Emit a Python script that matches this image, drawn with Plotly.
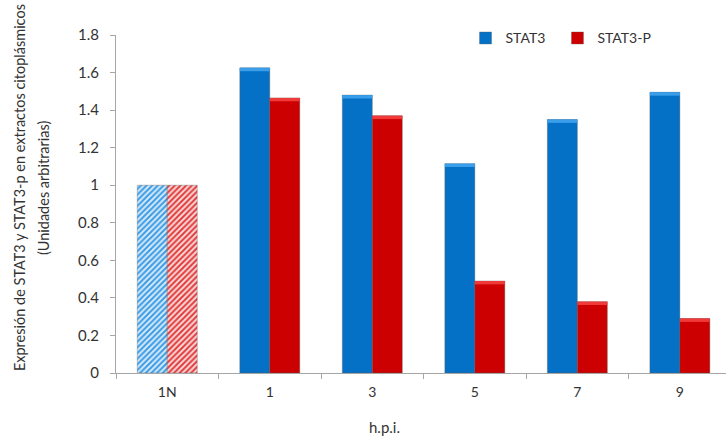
import plotly.graph_objects as go

categories = ["1N", "1", "3", "5", "7", "9"]
stat3 = [1.0, 1.625, 1.48, 1.115, 1.35, 1.495]
stat3_p = [1.0, 1.465, 1.37, 0.49, 0.38, 0.29]
y_ticks = [0, 0.2, 0.4, 0.6, 0.8, 1.0, 1.2, 1.4, 1.6, 1.8]
y_tick_labels = ["0", "0.2", "0.4", "0.6", "0.8", "1", "1.2", "1.4", "1.6", "1.8"]
hatched = [True, False, False, False, False, False]
series_names = ["STAT3", "STAT3-P"]
y_title_lines = ["Expresión de STAT3 y STAT3-p en extractos citoplásmicos",
                 "(Unidades arbitrarias)"]

BLUE = "#0571C6"
BLUE_LIGHT = "#D6EBFB"
BLUE_HATCH = "#3A9AE3"
BLUE_TOP = "#3A9EEA"
RED = "#CC0000"
RED_LIGHT = "#FBDADA"
RED_HATCH = "#E03A3A"
RED_TOP = "#F03A3A"
BEVEL = 0.018
OUTLINE = dict(color="rgba(90,90,90,0.35)", width=1)

FONT = "Lato"
TXT = "#333333"

fig = go.Figure()

def solid_trace(name, vals, color, group):
    return go.Bar(
        x=categories, y=[None if h else v for h, v in zip(hatched, vals)],
        name=name, offsetgroup=group,
        marker=dict(color=color, line=OUTLINE),
        showlegend=False, hoverinfo="skip",
    )

def hatch_trace(name, vals, light, hatch, group):
    return go.Bar(
        x=categories, y=[v if h else None for h, v in zip(hatched, vals)],
        name=name, offsetgroup=group,
        marker=dict(color=light, line=OUTLINE,
                    pattern=dict(shape="/", fillmode="replace", fgcolor=hatch,
                                 bgcolor=light, fgopacity=1, size=4, solidity=0.5)),
        showlegend=False, hoverinfo="skip",
    )

def bevel_trace(vals, color, group):
    return go.Bar(
        x=categories,
        y=[None if h else BEVEL for h, v in zip(hatched, vals)],
        base=[None if h else v - BEVEL for h, v in zip(hatched, vals)],
        offsetgroup=group, marker=dict(color=color, line=dict(width=0)),
        showlegend=False, hoverinfo="skip",
    )

fig.add_trace(solid_trace(series_names[0], stat3, BLUE, "a"))
fig.add_trace(solid_trace(series_names[1], stat3_p, RED, "b"))
fig.add_trace(hatch_trace(series_names[0], stat3, BLUE_LIGHT, BLUE_HATCH, "a"))
fig.add_trace(hatch_trace(series_names[1], stat3_p, RED_LIGHT, RED_HATCH, "b"))
fig.add_trace(bevel_trace(stat3, BLUE_TOP, "a"))
fig.add_trace(bevel_trace(stat3_p, RED_TOP, "b"))

# legend entries
fig.add_trace(go.Bar(x=[None], y=[None], name=series_names[0] + "\u00a0\u00a0",
                     marker=dict(color=BLUE, line=OUTLINE)))
fig.add_trace(go.Bar(x=[None], y=[None], name=series_names[1],
                     marker=dict(color=RED, line=OUTLINE)))

annotations = [dict(text="h.p.i.", xref="paper", yref="paper", x=0.44, y=-0.16,
                    xanchor="center", yanchor="middle", showarrow=False,
                    font=dict(size=15, color=TXT))]
for txt, shift in zip(y_title_lines, [-97, -73]):
    annotations.append(dict(text=txt, xref="paper", yref="paper", x=0, y=0.547,
                            xanchor="center", yanchor="middle", xshift=shift,
                            textangle=-90, showarrow=False,
                            font=dict(size=14.5, color=TXT)))

fig.update_layout(
    width=726, height=439,
    margin=dict(l=116, r=0, t=35, b=66, autoexpand=False),
    paper_bgcolor="white", plot_bgcolor="white",
    barmode="group", bargap=0.415, bargroupgap=0,
    font=dict(family=FONT, color=TXT, size=14),
    legend=dict(orientation="h", x=0.573, y=0.99, xanchor="left", yanchor="middle",
                font=dict(size=14, color=TXT), itemwidth=30, tracegroupgap=0,
                bgcolor="rgba(0,0,0,0)"),
    xaxis=dict(
        type="category", range=[-0.5, 5.45], automargin=False,
        showline=True, linecolor="#A6A6A6", linewidth=1,
        ticks="outside", tickson="boundaries", ticklen=5, tickcolor="#A6A6A6",
        showgrid=False, tickfont=dict(size=14, color=TXT), ticklabelstandoff=6,
    ),
    yaxis=dict(
        range=[0, 1.8], tickvals=y_ticks, ticktext=y_tick_labels, automargin=False,
        showline=True, linecolor="#A6A6A6", linewidth=1,
        ticks="outside", ticklen=5, tickcolor="#A6A6A6", ticklabelstandoff=8,
        showgrid=False, zeroline=False, tickfont=dict(size=15, color=TXT),
    ),
    annotations=annotations,
)

fig.write_html("out.html", post_script="document.body.style.margin='0';document.body.style.overflow='hidden';")
